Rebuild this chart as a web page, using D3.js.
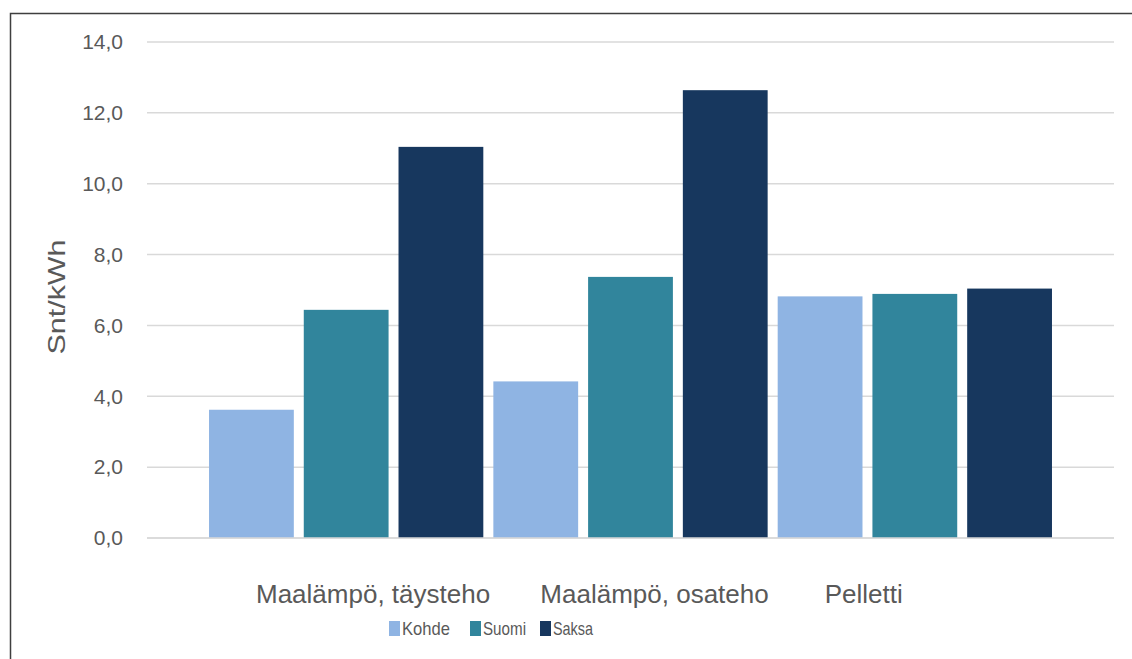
<!DOCTYPE html>
<html>
<head>
<meta charset="utf-8">
<script src="https://cdn.jsdelivr.net/npm/d3@7"></script>
<style>
  body { margin: 0; background: #fff; }
  svg text { font-family: "Liberation Sans", Arial, sans-serif; fill: #595959; }
</style>
</head>
<body>
<div id="chart"></div>
<script>
  // values
  const categories = ["Maalämpö, täysteho", "Maalämpö, osateho", "Pelletti"];
  const seriesNames = ["Kohde", "Suomi", "Saksa"];
  const kohde = [3.62, 4.42, 6.82];
  const suomi = [6.44, 7.37, 6.89];
  const saksa = [11.04, 12.64, 7.04];
  const yTicks = [0, 2, 4, 6, 8, 10, 12, 14];
  const colors = ["#8fb4e3", "#31859c", "#17375e"];

  const svgWidth = 1132, svgHeight = 659;
  const svg = d3.select("#chart").append("svg")
    .attr("width", svgWidth)
    .attr("height", svgHeight);

  // outer chart border (cropped at the right and bottom)
  svg.append("path")
    .attr("d", "M10.5," + svgHeight + "V13.5H" + svgWidth)
    .attr("fill", "none")
    .attr("stroke", "#3f3f3f")
    .attr("stroke-width", 1.5);

  const plot = {left: 147, right: 1114, top: 42, bottom: 538};

  const y = d3.scaleLinear().domain([0, 14]).range([plot.bottom, plot.top]);
  // groups touch each other; bars have a small gap
  const x0 = d3.scaleBand().domain(categories).range([204, 1057]);
  const x1 = d3.scaleBand().domain(seriesNames).range([0, x0.bandwidth()]).paddingInner(0.105).paddingOuter(0.053);

  // gridlines
  svg.append("g")
    .selectAll("line")
    .data(yTicks)
    .enter().append("line")
      .attr("x1", plot.left)
      .attr("x2", plot.right)
      .attr("y1", d => y(d))
      .attr("y2", d => y(d))
      .attr("stroke", "#d9d9d9")
      .attr("stroke-width", 1.5);

  // y axis labels
  const yAxis = svg.append("g")
    .attr("transform", "translate(123,0)")
    .call(d3.axisLeft(y).tickValues(yTicks).tickSize(0).tickPadding(0)
      .tickFormat(d => d3.format(".1f")(d).replace(".", ",")));
  yAxis.select(".domain").remove();
  yAxis.selectAll("text")
    .style("font-size", "21px")
    .style("font-family", "'Liberation Sans', Arial, sans-serif")
    .attr("fill", "#595959");

  svg.append("text")
    .attr("transform", "translate(65," + 297 + ") rotate(-90)")
    .attr("text-anchor", "middle")
    .attr("textLength", 115)
    .attr("lengthAdjust", "spacingAndGlyphs")
    .style("font-size", "24px")
    .text("Snt/kWh");

  // bars
  const rows = categories.map((c, i) => ({
    category: c,
    values: [kohde[i], suomi[i], saksa[i]].map((v, j) => ({name: seriesNames[j], value: v}))
  }));

  const groups = svg.append("g").selectAll("g")
    .data(rows)
    .enter().append("g")
      .attr("transform", d => "translate(" + x0(d.category) + ",0)");

  groups.selectAll("rect")
    .data(d => d.values)
    .enter().append("rect")
      .attr("x", d => x1(d.name))
      .attr("y", d => y(d.value))
      .attr("width", x1.bandwidth())
      .attr("height", d => y(0) - y(d.value))
      .attr("fill", (d, i) => colors[i]);

  // baseline
  svg.append("line")
    .attr("x1", plot.left).attr("x2", plot.right)
    .attr("y1", y(0)).attr("y2", y(0))
    .attr("stroke", "#d9d9d9").attr("stroke-width", 1.5);

  // category labels
  svg.append("g").selectAll("text")
    .data(categories)
    .enter().append("text")
      .attr("x", d => x0(d) + 52)
      .attr("y", 603)
      .style("font-size", "26px")
      .text(d => d);

  // legend
  const legendX = [389, 470, 540];
  const legendTextW = [48, 43, 40];
  const legend = svg.append("g")
    .selectAll("g")
    .data(seriesNames)
    .enter().append("g")
      .attr("transform", (d, i) => "translate(" + legendX[i] + ",0)");
  legend.append("rect")
    .attr("x", 0).attr("y", 621)
    .attr("width", 11).attr("height", 15)
    .attr("fill", (d, i) => colors[i]);
  legend.append("text")
    .attr("x", 13).attr("y", 635)
    .attr("textLength", (d, i) => legendTextW[i])
    .attr("lengthAdjust", "spacingAndGlyphs")
    .style("font-size", "19px")
    .text(d => d);
</script>
</body>
</html>
